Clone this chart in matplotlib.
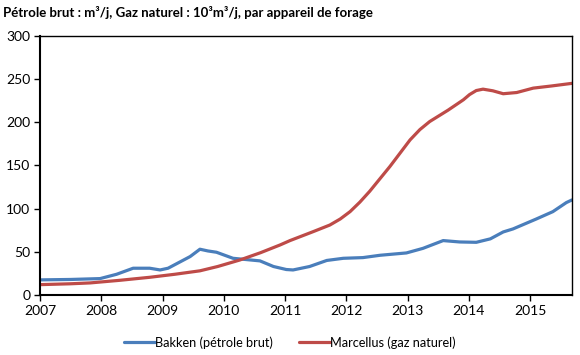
import matplotlib
matplotlib.use("Agg")
import matplotlib.pyplot as plt
import numpy as np

plt.rcParams['font.family'] = ['Lato', 'DejaVu Sans']

TITLE = "Pétrole brut : m³/j, Gaz naturel : 10³m³/j, par appareil de forage"

# Bakken (crude oil, m3/d per rig)
bakken_x = [2007.0, 2007.5, 2007.98, 2008.25, 2008.52, 2008.79, 2008.96, 2009.09,
            2009.45, 2009.61, 2009.74, 2009.88, 2010.15, 2010.59, 2010.81, 2011.02,
            2011.13, 2011.40, 2011.68, 2011.95, 2012.27, 2012.55, 2012.98, 2013.25,
            2013.58, 2013.85, 2014.12, 2014.35, 2014.56, 2014.72, 2015.1, 2015.37,
            2015.59, 2015.68]
bakken_y = [17.5, 18, 19, 24, 31, 31, 29, 31,
            44.5, 53, 51, 49.5, 42.5, 39.5, 33, 29.5,
            29, 33, 40, 42.5, 43.3, 46, 48.7, 54,
            63, 61.4, 61, 65, 73, 76.5, 88, 96.5,
            107, 110]

# Marcellus (natural gas, 10^3 m3/d per rig)
marcellus_x = [2007.0, 2007.5, 2007.82, 2008.3, 2008.79, 2009.2, 2009.61, 2009.9,
               2010.26, 2010.6, 2010.92, 2011.08, 2011.46, 2011.73, 2011.9, 2012.06,
               2012.22, 2012.38, 2012.71, 2013.04, 2013.2, 2013.36, 2013.66, 2013.91,
               2014.01, 2014.12, 2014.23, 2014.39, 2014.56, 2014.78, 2015.05, 2015.35,
               2015.68]
marcellus_y = [12, 13, 14, 17, 20.5, 24, 28, 33,
               40.5, 49, 58, 63, 73.4, 81, 88, 96.5,
               107.5, 120, 148.7, 179.6, 191.5, 200.8, 214, 226,
               232, 236.7, 238.3, 236.4, 233, 234.4, 239.5, 242,
               245]

years = list(range(2007, 2016))
yticks = [0, 50, 100, 150, 200, 250, 300]

fig = plt.figure(figsize=(5.8, 3.55), dpi=100)
ax = fig.add_axes([0.069, 0.169, 0.918, 0.730])

ax.plot(bakken_x, bakken_y, color='#4A7EBB', lw=2.3, label='Bakken (pétrole brut)',
        solid_capstyle='round', solid_joinstyle='round')
ax.plot(marcellus_x, marcellus_y, color='#BE4B48', lw=2.3, label='Marcellus (gaz naturel)',
        solid_capstyle='round', solid_joinstyle='round')

ax.set_xlim(2007, 2015.69)
ax.set_ylim(0, 300)
ax.set_xticks(years)
ax.set_xticklabels([str(y) for y in years])
ax.set_yticks(yticks)
ax.tick_params(axis='both', direction='out', length=4, width=1, labelsize=10,
               colors='black', pad=3)
for s in ax.spines.values():
    s.set_color('black')
    s.set_linewidth(1)
ax.spines['left'].set_linewidth(1.5)
ax.spines['bottom'].set_linewidth(1.5)

fig.text(0.005, 0.965, TITLE, fontsize=9.5, fontweight='bold', va='center', ha='left')

fig.legend(loc='center', bbox_to_anchor=(0.5, 0.035), ncol=2, frameon=False,
           fontsize=9.2, handlelength=2.4, handletextpad=0.05, columnspacing=2.0)

fig.savefig('out.png', dpi=100)
